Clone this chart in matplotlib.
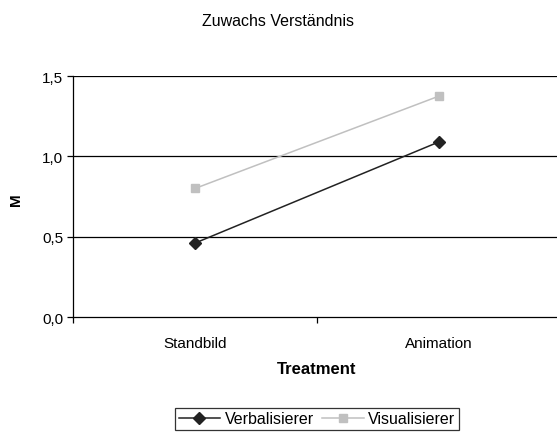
import matplotlib
matplotlib.use('Agg')
import matplotlib.pyplot as plt

plt.rcParams['font.family'] = ['Liberation Sans', 'DejaVu Sans']

categories = ['Standbild', 'Animation']
verbalisierer = [0.46, 1.09]
visualisierer = [0.80, 1.375]
yticks = [0.0, 0.5, 1.0, 1.5]
ytick_labels = ['0,0', '0,5', '1,0', '1,5']

fig = plt.figure(figsize=(5.57, 4.35), dpi=100)
W, H = 557, 435
ax = fig.add_axes([73 / W, 1 - 318 / H, (561 - 73) / W, (318 - 77) / H])

x = list(range(len(categories)))
ax.plot(x, verbalisierer, color='#222222', lw=1.1, marker='D', ms=6,
        label='Verbalisierer', clip_on=False, zorder=3)
ax.plot(x, visualisierer, color='#c0c0c0', lw=1.1, marker='s', ms=6,
        label='Visualisierer', clip_on=False, zorder=3)

ax.set_xlim(-0.5, 1.5)
ax.set_ylim(0, 1.5)
for v in yticks[1:]:
    ax.axhline(v, color='black', lw=0.9, zorder=1)

ax.set_yticks(yticks)
ax.set_yticklabels(ytick_labels, fontsize=11)
ax.set_xticks(x)
ax.set_xticklabels(categories, fontsize=11)
ax.set_xticks([-0.5, 0.5, 1.5], minor=True)
ax.tick_params(axis='x', which='major', length=0, pad=14)
ax.tick_params(axis='x', which='minor', length=4, width=0.9, direction='out')
ax.tick_params(axis='y', length=4, width=0.9, direction='out', pad=3)

for side in ['top', 'right']:
    ax.spines[side].set_visible(False)
for side in ['left', 'bottom']:
    ax.spines[side].set_linewidth(0.9)

fig.text(0.5, 1 - 22 / H, 'Zuwachs Verständnis', ha='center', va='center', fontsize=11.5)
fig.text(16 / W, 1 - 200 / H, 'M', rotation=90, ha='center', va='center',
         fontsize=11, fontweight='bold')
fig.text(317 / W, 1 - 370 / H, 'Treatment', ha='center', va='center',
         fontsize=12, fontweight='bold')

leg = fig.legend(loc='center', bbox_to_anchor=(317 / W, 1 - 420 / H), ncol=2,
                 frameon=True, fancybox=False, edgecolor='black', fontsize=11.5,
                 handlelength=2.6, columnspacing=0.5, handletextpad=0.3,
                 borderpad=0.25, borderaxespad=0)
leg.get_frame().set_linewidth(0.9)

fig.savefig('out.png', dpi=100)
